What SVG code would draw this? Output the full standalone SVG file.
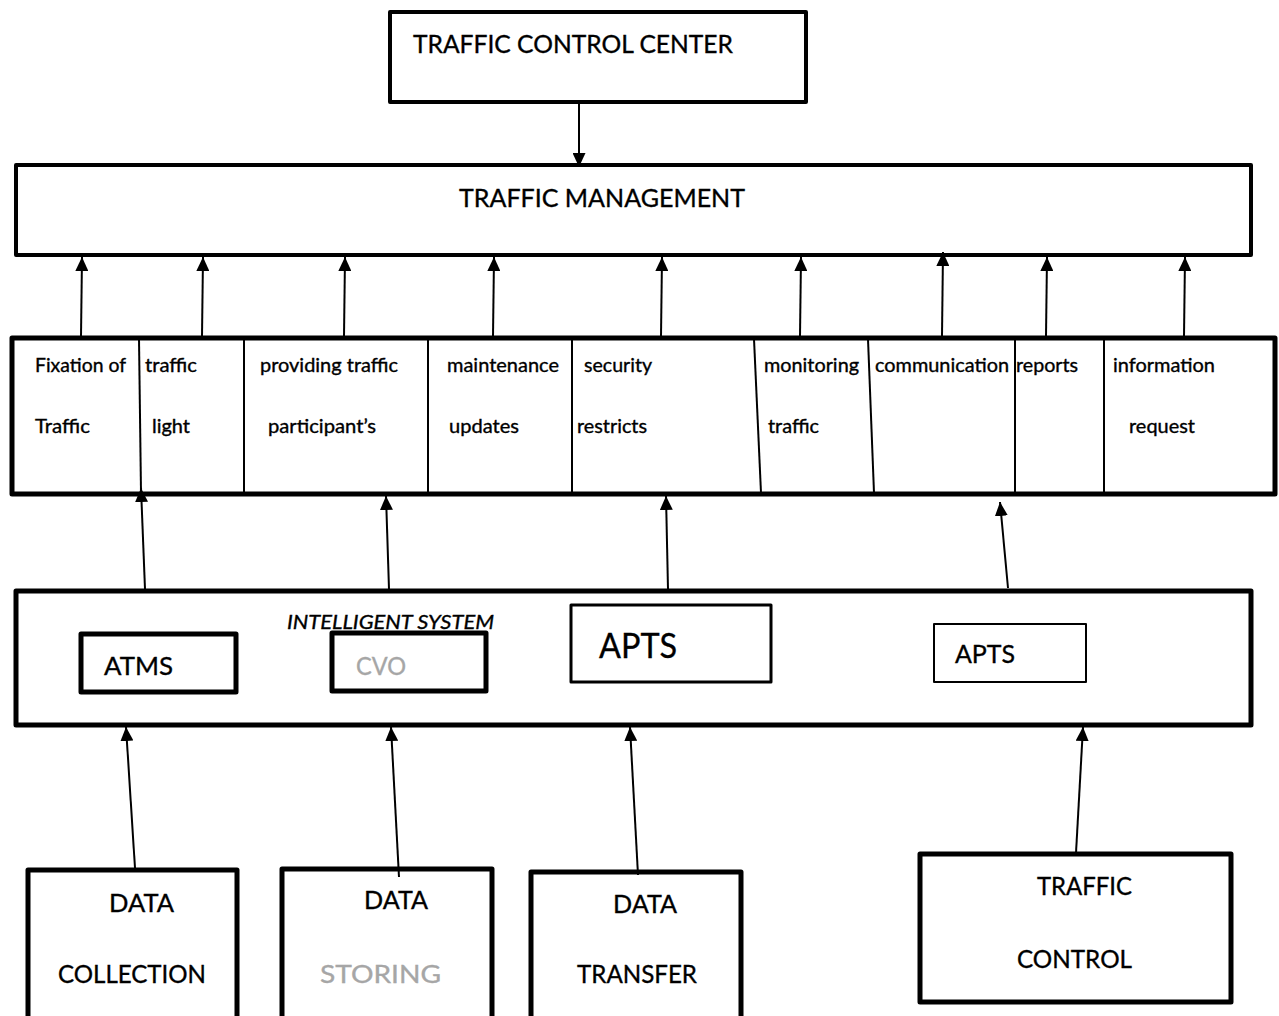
<svg xmlns="http://www.w3.org/2000/svg" width="1279" height="1016" viewBox="0 0 1279 1016">
<style>
  .box { fill: #ffffff; stroke: #000000; stroke-linejoin: round; }
  .b5 { stroke-width: 5; }
  .b4 { stroke-width: 4; }
  .b3 { stroke-width: 3; }
  .b2 { stroke-width: 2; }
  .div { stroke: #000000; stroke-width: 2; fill: none; }
  .t { font-family: Lato, "Open Sans", "Liberation Sans", sans-serif; fill: #000000; stroke: #000000; stroke-width: 0.35; }
  .big { font-size: 25px; }
  .fn { font-size: 19px; }
  .gray { fill: #a6a6a6; stroke: #a6a6a6; }
  .conn line { stroke: #000000; stroke-width: 2; marker-end: url(#ah); }
</style>
<defs>
  <marker id="ah" viewBox="0 0 14 13" refX="14" refY="6.5" markerWidth="14" markerHeight="13" markerUnits="userSpaceOnUse" orient="auto">
    <path d="M0,0 L14,6.5 L0,13 z" fill="#000000"/>
  </marker>
</defs>
<rect width="1279" height="1016" fill="#ffffff"/>

<g id="traffic-control-center">
  <rect class="box b4" x="390" y="12" width="416" height="90"/>
  <text class="t big" x="413" y="53" textLength="320" lengthAdjust="spacingAndGlyphs">TRAFFIC CONTROL CENTER</text>
</g>

<g id="traffic-management">
  <rect class="box b4" x="16" y="165" width="1235" height="90"/>
  <text class="t big" x="459" y="207" textLength="286" lengthAdjust="spacingAndGlyphs">TRAFFIC MANAGEMENT</text>
</g>

<g id="functions">
  <rect class="box b5" x="12" y="338" width="1263" height="156"/>
  <line class="div" x1="139" y1="339" x2="141" y2="493"/>
  <line class="div" x1="244" y1="339" x2="244" y2="493"/>
  <line class="div" x1="428" y1="339" x2="428" y2="493"/>
  <line class="div" x1="572" y1="339" x2="572" y2="493"/>
  <line class="div" x1="754" y1="339" x2="761" y2="493"/>
  <line class="div" x1="868" y1="339" x2="874" y2="493"/>
  <line class="div" x1="1015" y1="339" x2="1015" y2="493"/>
  <line class="div" x1="1104" y1="339" x2="1104" y2="493"/>
  <g id="fn-fixation">
    <text class="t fn" x="35" y="372" textLength="91" lengthAdjust="spacingAndGlyphs">Fixation of</text>
    <text class="t fn" x="35" y="433" textLength="55" lengthAdjust="spacingAndGlyphs">Traffic</text>
  </g>
  <g id="fn-traffic-light">
    <text class="t fn" x="145" y="372" textLength="52" lengthAdjust="spacingAndGlyphs">traffic</text>
    <text class="t fn" x="152" y="433" textLength="38" lengthAdjust="spacingAndGlyphs">light</text>
  </g>
  <g id="fn-providing">
    <text class="t fn" x="260" y="372" textLength="138" lengthAdjust="spacingAndGlyphs">providing traffic</text>
    <text class="t fn" x="268" y="433" textLength="108" lengthAdjust="spacingAndGlyphs">participant’s</text>
  </g>
  <g id="fn-maintenance">
    <text class="t fn" x="447" y="372" textLength="112" lengthAdjust="spacingAndGlyphs">maintenance</text>
    <text class="t fn" x="449" y="433" textLength="70" lengthAdjust="spacingAndGlyphs">updates</text>
  </g>
  <g id="fn-security">
    <text class="t fn" x="584" y="372" textLength="68" lengthAdjust="spacingAndGlyphs">security</text>
    <text class="t fn" x="577" y="433" textLength="70" lengthAdjust="spacingAndGlyphs">restricts</text>
  </g>
  <g id="fn-monitoring">
    <text class="t fn" x="764" y="372" textLength="95" lengthAdjust="spacingAndGlyphs">monitoring</text>
    <text class="t fn" x="768" y="433" textLength="51" lengthAdjust="spacingAndGlyphs">traffic</text>
  </g>
  <g id="fn-communication">
    <text class="t fn" x="875" y="372" textLength="134" lengthAdjust="spacingAndGlyphs">communication</text>
  </g>
  <g id="fn-reports">
    <text class="t fn" x="1016" y="372" textLength="62" lengthAdjust="spacingAndGlyphs">reports</text>
  </g>
  <g id="fn-information">
    <text class="t fn" x="1113" y="372" textLength="102" lengthAdjust="spacingAndGlyphs">information</text>
    <text class="t fn" x="1129" y="433" textLength="66" lengthAdjust="spacingAndGlyphs">request</text>
  </g>
</g>

<g id="intelligent-system">
  <rect class="box b5" x="16" y="591" width="1235" height="134"/>
  <text class="t" x="287" y="629" font-size="20" font-style="italic" textLength="207" lengthAdjust="spacingAndGlyphs">INTELLIGENT SYSTEM</text>
</g>
<g id="atms">
  <rect class="box b5" x="81" y="634" width="155" height="58"/>
  <text class="t big" x="104" y="675" textLength="69" lengthAdjust="spacingAndGlyphs">ATMS</text>
</g>
<g id="cvo">
  <rect class="box b5" x="332" y="633" width="154" height="58" fill-opacity="0"/>
  <text class="t big gray" x="356" y="675" textLength="50" lengthAdjust="spacingAndGlyphs">CVO</text>
</g>
<g id="apts-1">
  <rect class="box b3" x="571" y="605" width="200" height="77"/>
  <text class="t" x="599" y="658" font-size="35" textLength="78" lengthAdjust="spacingAndGlyphs">APTS</text>
</g>
<g id="apts-2">
  <rect class="box b2" x="934" y="624" width="152" height="58"/>
  <text class="t big" x="955" y="663" textLength="60" lengthAdjust="spacingAndGlyphs">APTS</text>
</g>

<g id="data-collection">
  <rect class="box b5" x="28" y="870" width="209" height="160"/>
  <text class="t big" x="109" y="912" textLength="65" lengthAdjust="spacingAndGlyphs">DATA</text>
  <text class="t big" x="58" y="983" textLength="148" lengthAdjust="spacingAndGlyphs">COLLECTION</text>
</g>
<g id="data-storing">
  <rect class="box b5" x="282" y="869" width="210" height="160"/>
  <text class="t big" x="364" y="909" textLength="64" lengthAdjust="spacingAndGlyphs">DATA</text>
  <text class="t big gray" x="320" y="983" textLength="121" lengthAdjust="spacingAndGlyphs">STORING</text>
</g>
<g id="data-transfer">
  <rect class="box b5" x="531" y="872" width="210" height="160"/>
  <text class="t big" x="613" y="913" textLength="64" lengthAdjust="spacingAndGlyphs">DATA</text>
  <text class="t big" x="577" y="983" textLength="120" lengthAdjust="spacingAndGlyphs">TRANSFER</text>
</g>
<g id="traffic-control">
  <rect class="box b5" x="920" y="854" width="311" height="148"/>
  <text class="t big" x="1037" y="895" textLength="95" lengthAdjust="spacingAndGlyphs">TRAFFIC</text>
  <text class="t big" x="1017" y="968" textLength="115" lengthAdjust="spacingAndGlyphs">CONTROL</text>
</g>

<g id="connectors" class="conn">
  <line x1="579" y1="103" x2="579" y2="167"/>
  <line x1="81" y1="336" x2="82" y2="257"/>
  <line x1="202" y1="336" x2="203" y2="257"/>
  <line x1="344" y1="336" x2="345" y2="257"/>
  <line x1="493" y1="336" x2="494" y2="257"/>
  <line x1="661" y1="336" x2="662" y2="257"/>
  <line x1="800" y1="336" x2="801" y2="257"/>
  <line x1="942" y1="336" x2="943" y2="252"/>
  <line x1="1046" y1="336" x2="1047" y2="257"/>
  <line x1="1184" y1="336" x2="1185" y2="257"/>
  <line x1="145" y1="589" x2="141" y2="488"/>
  <line x1="389" y1="589" x2="386" y2="496"/>
  <line x1="668" y1="589" x2="666" y2="496"/>
  <line x1="1008" y1="588" x2="1000" y2="502"/>
  <line x1="135" y1="868" x2="126" y2="727"/>
  <line x1="399" y1="877" x2="391" y2="727"/>
  <line x1="638" y1="875" x2="630" y2="727"/>
  <line x1="1076" y1="853" x2="1083" y2="727"/>
</g>
</svg>
